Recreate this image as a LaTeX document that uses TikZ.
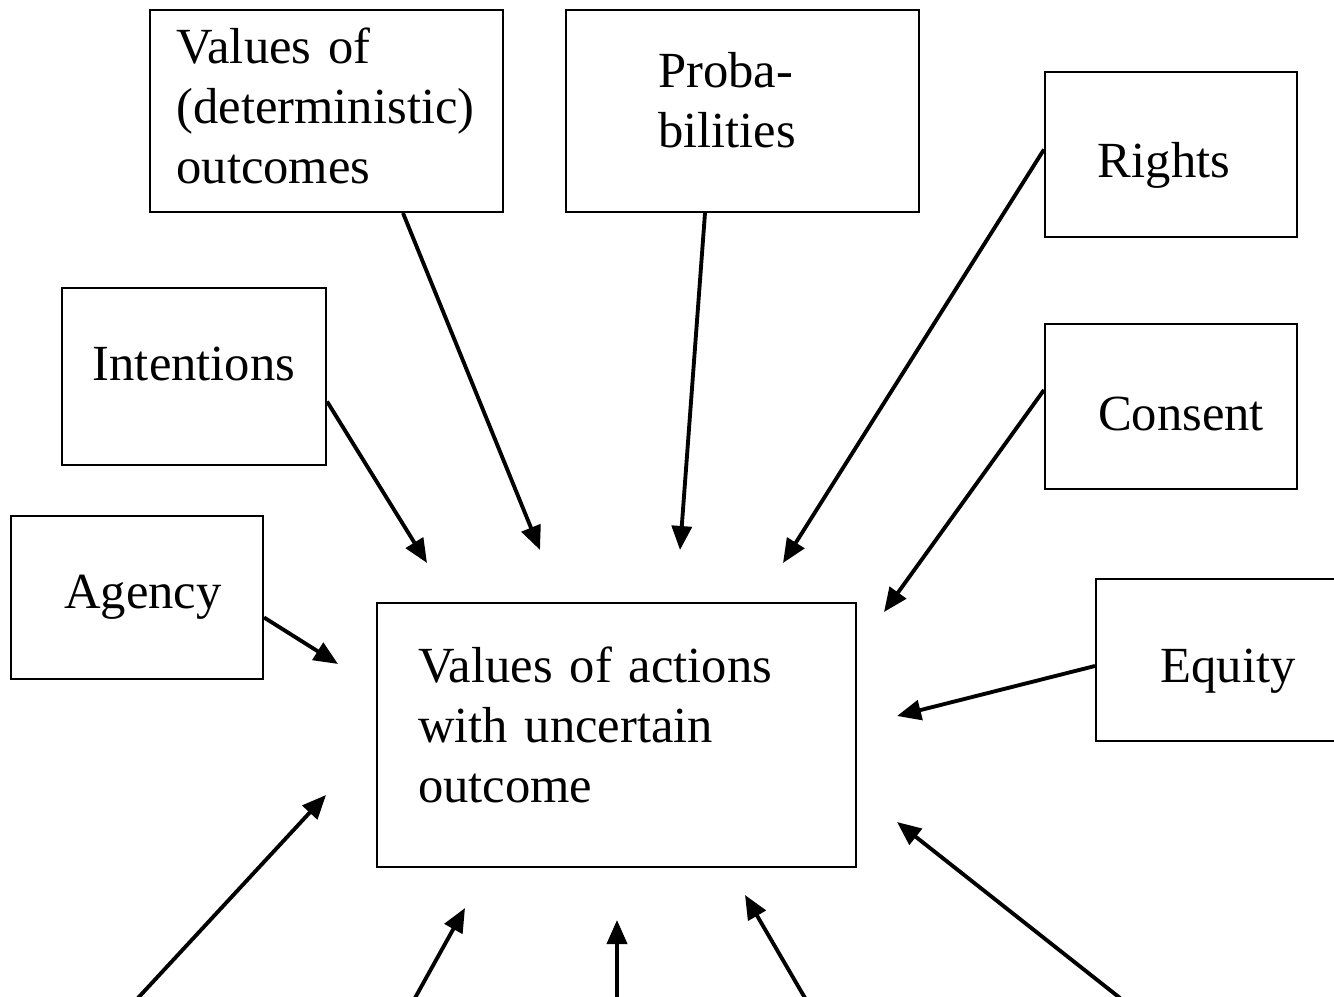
\documentclass[tikz,border=0pt]{standalone}
\usepackage{fontspec}
\setmainfont{Liberation Serif}
\usetikzlibrary{arrows.meta}

\begin{document}
\begin{tikzpicture}
        \tikzset{box/.style={draw,line width=0.6pt,rectangle,align=left,
                font=\fontsize{14.4}{17.1}\selectfont},
            base/.style={text height=#1,text depth=0pt},
            arr/.style={-{Triangle[length=0.24cm,width=0.2cm]},line width=1.1pt}}
        \clip (0,0) rectangle (13.34,9.96);
        \node[box,minimum width=3.53cm,minimum height=2.02cm,text width=3.0cm,text depth=1.31cm] (vals) at (3.265,8.85)
            {Values of\\(deterministic)\\outcomes};
        \node[box,minimum width=3.53cm,minimum height=2.02cm,text width=1.69cm,text depth=0.82cm] (prob) at (7.425,8.85)
            {Proba-\\bilities};
        \node[box,minimum width=2.52cm,minimum height=1.65cm,base=0.47cm] (rights) at (11.71,8.415) {\hspace*{-0.14cm}Rights};
        \node[box,minimum width=2.64cm,minimum height=1.77cm,base=0.09cm] (intent) at (1.94,6.195) {Intentions};
        \node[box,minimum width=2.52cm,minimum height=1.65cm,base=0.49cm] (consent) at (11.71,5.895) {\hspace*{0.2cm}Consent};
        \node[box,minimum width=2.52cm,minimum height=1.63cm,base=0.23cm] (agency) at (1.37,3.985) {\hspace*{0.12cm}Agency};
        \node[box,minimum width=4.79cm,minimum height=2.64cm,text width=3.97cm,text depth=1.41cm] (centre) at (6.165,2.61)
            {Values of actions\\with uncertain\\outcome};
        \node[box,minimum width=2.64cm,minimum height=1.62cm,base=0.46cm] (equity) at (12.28,3.36) {Equity};
        % free ends of the arrows
        \coordinate (tvals) at (5.40,4.46);
        \coordinate (tprob) at (6.80,4.46);
        \coordinate (trights) at (7.83,4.33);
        \coordinate (tintent) at (4.27,4.33);
        \coordinate (tconsent) at (8.84,3.84);
        \coordinate (tagency) at (3.38,3.32);
        \coordinate (tequity) at (8.97,2.80);
        \coordinate (b1) at (1.38,-0.02);
        \coordinate (b2) at (4.15,-0.02);
        \coordinate (b3) at (6.17,-0.02);
        \coordinate (b4) at (8.05,-0.02);
        \coordinate (b5) at (11.20,-0.02);
        \coordinate (u1) at (3.26,2.01);
        \coordinate (u2) at (4.65,0.88);
        \coordinate (u3) at (6.17,0.76);
        \coordinate (u4) at (7.45,1.01);
        \coordinate (u5) at (8.97,1.74);
        \draw[arr] ([xshift=0.765cm]vals.south) -- (tvals);
        \draw[arr] ([xshift=-0.375cm]prob.south) -- (tprob);
        \draw[arr] ([yshift=0.05cm]rights.west) -- (trights);
        \draw[arr] ([yshift=-0.25cm]intent.east) -- (tintent);
        \draw[arr] ([yshift=0.165cm]consent.west) -- (tconsent);
        \draw[arr] ([yshift=-0.2cm]agency.east) -- (tagency);
        \draw[arr] ([yshift=-0.06cm]equity.west) -- (tequity);
        \draw[arr] (b1) -- (u1);
        \draw[arr] (b2) -- (u2);
        \draw[arr] (b3) -- (u3);
        \draw[arr] (b4) -- (u4);
        \draw[arr] (b5) -- (u5);
    \end{tikzpicture}
\end{document}
